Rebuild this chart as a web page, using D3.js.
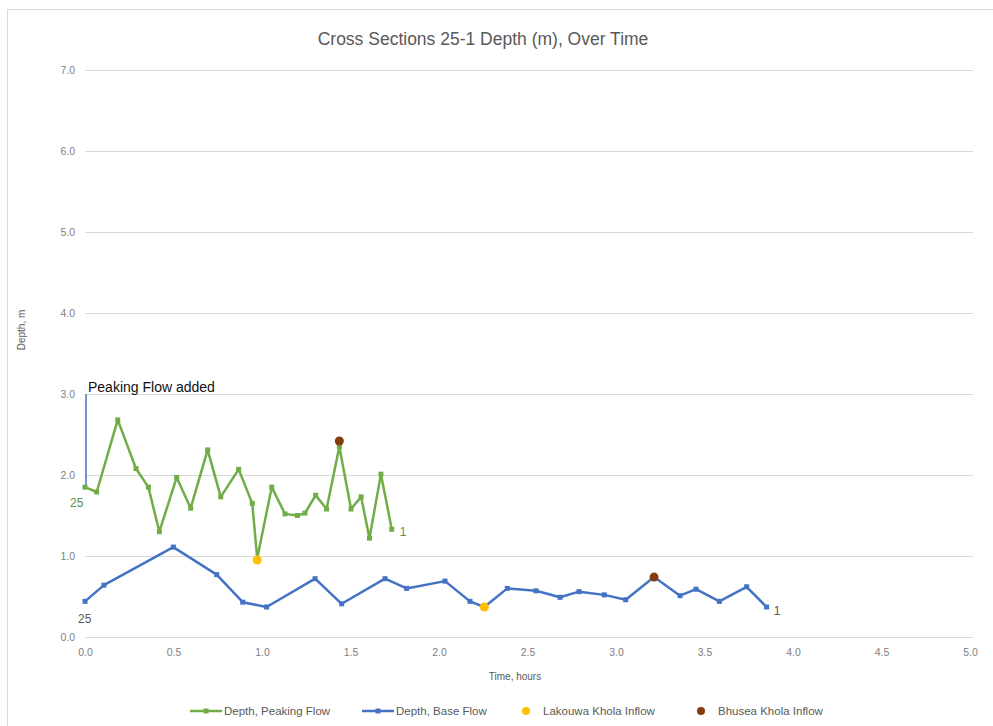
<!DOCTYPE html>
<html>
<head>
<meta charset="utf-8">
<script src="https://cdn.jsdelivr.net/npm/d3@7"></script>
<style>
  html, body { margin: 0; padding: 0; background: #fff; }
  svg { display: block; font-family: "Liberation Sans", Arial, sans-serif; }
</style>
</head>
<body>
<svg id="chart" width="993" height="726"></svg>
<script>
// Travel time (hours) and depth (m) along cross sections 25 → 1
const peakTime  = [0.0, 0.066, 0.185, 0.288, 0.358, 0.42, 0.518, 0.597, 0.693, 0.767, 0.868, 0.945, 0.973,
                   1.055, 1.13, 1.20, 1.243, 1.303, 1.365, 1.437, 1.503, 1.56, 1.607, 1.672, 1.733];
const peakDepth = [1.85, 1.79, 2.68, 2.08, 1.85, 1.30, 1.97, 1.59, 2.31, 1.73, 2.07, 1.65, 0.97,
                   1.85, 1.52, 1.50, 1.53, 1.75, 1.58, 2.35, 1.58, 1.73, 1.22, 2.01, 1.33];

const baseTime  = [0.0, 0.107, 0.499, 0.744, 0.891, 1.026, 1.30, 1.45, 1.695, 1.817, 2.034, 2.175, 2.256,
                   2.386, 2.548, 2.684, 2.791, 2.934, 3.055, 3.215, 3.362, 3.452, 3.584, 3.738, 3.851];
const baseDepth = [0.44, 0.64, 1.11, 0.77, 0.43, 0.37, 0.72, 0.41, 0.72, 0.60, 0.69, 0.44, 0.37,
                   0.60, 0.57, 0.49, 0.56, 0.52, 0.46, 0.74, 0.51, 0.59, 0.44, 0.62, 0.37];

// Tributary inflow locations
const lakouwaTime  = [0.973, 2.256];
const lakouwaDepth = [0.95, 0.37];
const bhuseaTime   = [1.437, 3.215];
const bhuseaDepth  = [2.42, 0.74];

const xTicks = [0, 0.5, 1, 1.5, 2, 2.5, 3, 3.5, 4, 4.5, 5];
const yTicks = [0, 1, 2, 3, 4, 5, 6, 7];

const seriesNames = ["Depth, Peaking Flow", "Depth, Base Flow", "Lakouwa Khola Inflow", "Bhusea Khola Inflow"];
const colors = { peak: "#70AD47", base: "#4472C4", lakouwa: "#FFC000", bhusea: "#843C0C" };

const svg = d3.select("#chart");
const W = 993, H = 726;

// Chart frame
svg.append("rect").attr("x", 7.5).attr("y", 9.5).attr("width", W).attr("height", H)
   .attr("fill", "#fff").attr("stroke", "#d9d9d9");

const x = d3.scaleLinear().domain([0, 5]).range([85, 970]);
const y = d3.scaleLinear().domain([0, 7]).range([637, 70]);

// Horizontal gridlines + y tick labels
const yAxis = svg.append("g").attr("transform", `translate(${x(0)},0)`)
  .call(d3.axisLeft(y).tickValues(yTicks).tickFormat(d3.format(".1f"))
        .tickSize(-(x(5) - x(0) + 3)).tickPadding(10));
yAxis.select(".domain").remove();
yAxis.selectAll(".tick line").attr("stroke", "#d9d9d9").attr("stroke-width", 1);
yAxis.selectAll(".tick text").attr("fill", "#7f7f7f").attr("font-size", 10.5)
     .attr("font-family", "Liberation Sans, Arial, sans-serif");

// X tick labels
const xAxis = svg.append("g").attr("transform", `translate(0,${y(0)})`)
  .call(d3.axisBottom(x).tickValues(xTicks).tickFormat(d3.format(".1f")).tickSize(0).tickPadding(12));
xAxis.select(".domain").remove();
xAxis.selectAll(".tick text").attr("fill", "#7f7f7f").attr("font-size", 10.5)
     .attr("font-family", "Liberation Sans, Arial, sans-serif");

// Title and axis titles
svg.append("text").attr("x", 483).attr("y", 45).attr("text-anchor", "middle")
   .attr("font-size", 17.5).attr("fill", "#595959")
   .text("Cross Sections 25-1 Depth (m), Over Time");
svg.append("text").attr("x", 515).attr("y", 680).attr("text-anchor", "middle")
   .attr("font-size", 10).attr("fill", "#595959").text("Time, hours");
svg.append("text").attr("transform", "translate(25,330) rotate(-90)").attr("text-anchor", "middle")
   .attr("font-size", 10).attr("fill", "#595959").text("Depth, m");

// "Peaking Flow added" marker line
svg.append("line").attr("x1", x(0) + 1).attr("x2", x(0) + 1)
   .attr("y1", y(3.0)).attr("y2", y(peakDepth[0]))
   .attr("stroke", colors.base).attr("stroke-width", 1.5);
svg.append("text").attr("x", x(0) + 3).attr("y", 392)
   .attr("font-size", 14).attr("fill", "#111").text("Peaking Flow added");

const line = d3.line().x(d => x(d[0])).y(d => y(d[1]));

function drawSeries(times, depths, color) {
  const pts = times.map((t, i) => [t, depths[i]]);
  svg.append("path").datum(pts).attr("d", line)
     .attr("fill", "none").attr("stroke", color).attr("stroke-width", 2.5)
     .attr("stroke-linejoin", "round");
  svg.append("g").selectAll("rect").data(pts).join("rect")
     .attr("x", d => x(d[0]) - 2.5).attr("y", d => y(d[1]) - 2.5)
     .attr("width", 5).attr("height", 5).attr("fill", color);
  return pts;
}

const peakPts = drawSeries(peakTime, peakDepth, colors.peak);
const basePts = drawSeries(baseTime, baseDepth, colors.base);

function drawDots(times, depths, color) {
  svg.append("g").selectAll("circle").data(times.map((t, i) => [t, depths[i]])).join("circle")
     .attr("cx", d => x(d[0])).attr("cy", d => y(d[1])).attr("r", 4.5).attr("fill", color);
}
drawDots(lakouwaTime, lakouwaDepth, colors.lakouwa);
drawDots(bhuseaTime, bhuseaDepth, colors.bhusea);

// Cross-section labels at the start (25) and end (1) of each run
const endLabels = [
  { p: peakPts[0], text: "25", dx: -15, dy: 20, color: "#5e8e3e" },
  { p: peakPts[peakPts.length - 1], text: "1", dx: 8, dy: 7, color: "#5e8e3e" },
  { p: basePts[0], text: "25", dx: -7, dy: 22, color: "#595959" },
  { p: basePts[basePts.length - 1], text: "1", dx: 7, dy: 8, color: "#595959" }
];
svg.append("g").selectAll("text").data(endLabels).join("text")
   .attr("x", d => x(d.p[0]) + d.dx).attr("y", d => y(d.p[1]) + d.dy)
   .attr("font-size", 12).attr("fill", d => d.color).text(d => d.text);

// Legend
const legendItems = [
  { name: seriesNames[0], color: colors.peak, kind: "line", x: 190 },
  { name: seriesNames[1], color: colors.base, kind: "line", x: 362 },
  { name: seriesNames[2], color: colors.lakouwa, kind: "dot", x: 526 },
  { name: seriesNames[3], color: colors.bhusea, kind: "dot", x: 701 }
];
const ly = 711;
const lg = svg.append("g").selectAll("g").data(legendItems).join("g");
lg.filter(d => d.kind === "line").append("line")
  .attr("x1", d => d.x).attr("x2", d => d.x + 32).attr("y1", ly).attr("y2", ly)
  .attr("stroke", d => d.color).attr("stroke-width", 2.5);
lg.filter(d => d.kind === "line").append("rect")
  .attr("x", d => d.x + 13.5).attr("y", ly - 2.5).attr("width", 5).attr("height", 5)
  .attr("fill", d => d.color);
lg.filter(d => d.kind === "dot").append("circle")
  .attr("cx", d => d.x).attr("cy", ly).attr("r", 4).attr("fill", d => d.color);
lg.append("text")
  .attr("x", d => d.kind === "line" ? d.x + 34 : d.x + 17).attr("y", ly + 4)
  .attr("font-size", 11.5).attr("fill", "#595959").text(d => d.name);
</script>
</body>
</html>
